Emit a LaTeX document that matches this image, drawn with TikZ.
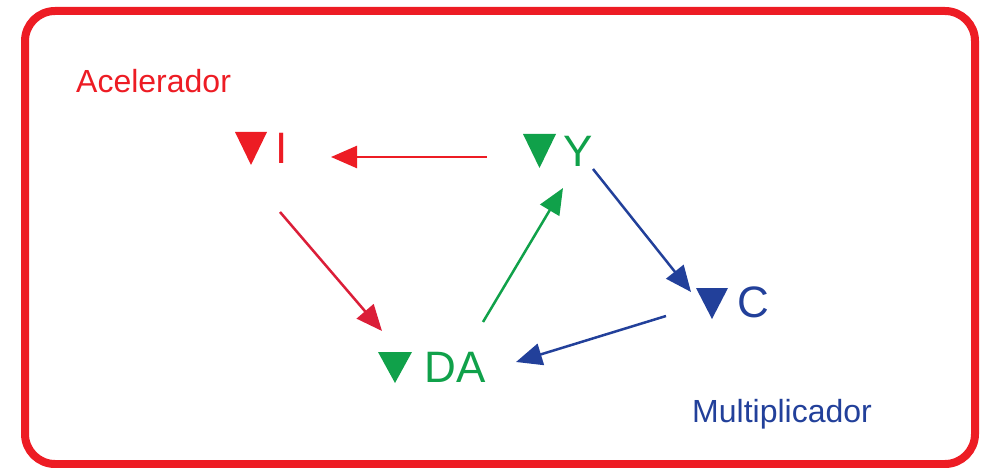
\documentclass[tikz,border=0pt]{standalone}
\usepackage{fontspec}
\setmainfont{Liberation Sans}
\usetikzlibrary{arrows.meta}
\definecolor{bred}{HTML}{ED1C24}
\definecolor{bgreen}{HTML}{10A14A}
\definecolor{bblue}{HTML}{22409A}
\definecolor{bcrim}{HTML}{DB1E38}
\tikzset{
  big/.style={inner sep=0pt, font=\fontsize{44}{44}\selectfont},
  small/.style={inner sep=0pt, anchor=base west, font=\fontsize{32}{32}\selectfont},
  conn/.style={line width=2.5pt, -{Triangle[length=26pt,width=22pt]}},
}
\begin{document}
\begin{tikzpicture}[x=1pt,y=-1pt]
\useasboundingbox (0,0) rectangle (986,468);
\draw[bred, line width=8pt, rounded corners=30pt] (25,11) rectangle (975,464);

\node[small, text=bred] (acc) at (76,93) {Acelerador};
\node[small, text=bblue] (mul) at (692,422) {Multiplicador};

% letters
\node[big, text=bred] (I) at (281.5,148) {I};
\node[big, text=bgreen] (Y) at (578.5,151) {Y};
\node[big, text=bblue] (C) at (753,302) {C};
\node[big, text=bgreen] (DA) at (455,367) {DA};

% triangles
\fill[bred] (235,132) -- (267,132) -- (251,165) -- cycle;
\fill[bgreen] (523,134) -- (556,134) -- (539.5,168) -- cycle;
\fill[bblue] (696,288) -- (728,288) -- (712,319) -- cycle;
\fill[bgreen] (378,352) -- (412,352) -- (395,383) -- cycle;

% connectors
\draw[conn, bred] ([shift={(-91.5,6)}]Y.center) -- ([shift={(49.5,9)}]I.center);
\draw[conn, bcrim] ([shift={(-1.5,64)}]I.center) -- ([shift={(-73,-36)}]DA.center);
\draw[conn, bgreen] ([shift={(28,-45)}]DA.center) -- ([shift={(-15.5,37)}]Y.center);
\draw[conn, bblue] ([shift={(14.5,18)}]Y.center) -- ([shift={(-62,-10)}]C.center);
\draw[conn, bblue] ([shift={(-87,14)}]C.center) -- ([shift={(61,-5)}]DA.center);
\end{tikzpicture}
\end{document}
